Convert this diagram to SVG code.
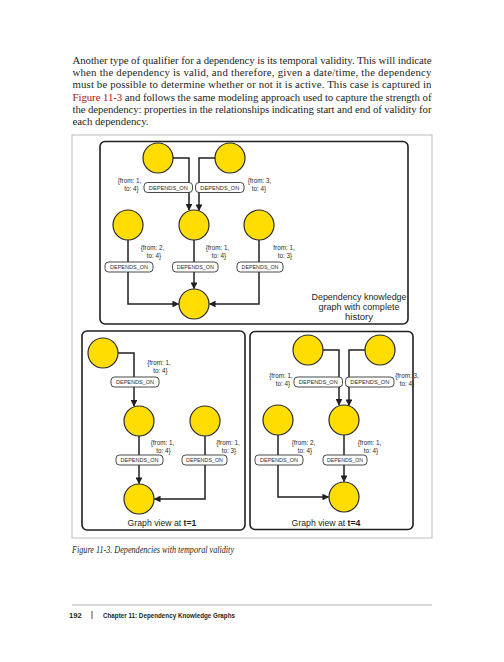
<svg xmlns="http://www.w3.org/2000/svg" width="504" height="662" viewBox="0 0 504 662">
<defs>
<style>
.para{font-family:"Liberation Serif",serif;font-size:10.8px;fill:#231f20}
.link{fill:#a3161a}
.cap{font-family:"Liberation Serif",serif;font-size:10px;font-style:italic;fill:#231f20}
.foot{font-family:"Liberation Sans",sans-serif;font-size:7.6px;font-weight:bold;fill:#231f20}
.panel{fill:#fff;stroke:#231f20;stroke-width:1.6}
.node{fill:#ffdd00;stroke:#2a2a2a;stroke-width:1.2}
.edge{fill:none;stroke:#231f20;stroke-width:1.5}
.lbox{fill:#fff;stroke:#333;stroke-width:0.9}
.ltxt{font-family:"Liberation Sans",sans-serif;font-size:6px;fill:#2a2a2a;text-anchor:middle}
.prop{font-family:"Liberation Sans",sans-serif;font-size:6.3px;fill:#2a2a2a;text-anchor:middle}
.title{font-family:"Liberation Sans",sans-serif;font-size:9.6px;fill:#231f20;text-anchor:middle}
.gv{font-family:"Liberation Sans",sans-serif;font-size:8.7px;fill:#231f20;text-anchor:middle}
</style>
<marker id="arr" viewBox="0 0 10 10" refX="9" refY="5" markerWidth="4.5" markerHeight="4.5" orient="auto" markerUnits="strokeWidth">
<path d="M0,0 L10,5 L0,10 z" fill="#231f20"/>
</marker>
</defs>
<rect width="504" height="662" fill="#fff"/>

<g id="paragraph">
<text class="para" x="72.5" y="63.5" textLength="359" lengthAdjust="spacing">Another type of qualifier for a dependency is its temporal validity. This will indicate</text>
<text class="para" x="72.5" y="76" textLength="359" lengthAdjust="spacing">when the dependency is valid, and therefore, given a date/time, the dependency</text>
<text class="para" x="72.5" y="88.3" textLength="359" lengthAdjust="spacing">must be possible to determine whether or not it is active. This case is captured in</text>
<text class="para" x="72.5" y="100.6" textLength="359" lengthAdjust="spacing"><tspan class="link">Figure 11-3</tspan> and follows the same modeling approach used to capture the strength of</text>
<text class="para" x="72.5" y="113" textLength="359" lengthAdjust="spacing">the dependency: properties in the relationships indicating start and end of validity for</text>
<text class="para" x="72.5" y="125.3">each dependency.</text>
</g>

<rect id="figure-frame" x="72" y="135" width="360" height="403" fill="none" stroke="#bdbdbd" stroke-width="1"/>

<!-- Panels -->
<rect id="panel-top" class="panel" x="100" y="141.5" width="308" height="182.5" rx="5"/>
<rect id="panel-t1" class="panel" x="82" y="331" width="163" height="199" rx="5"/>
<rect id="panel-t4" class="panel" x="250" y="331.5" width="163" height="198" rx="5"/>

<!-- Connectors -->
<g id="connectors">
<path class="edge" d="M173,158 H189 V210" marker-end="url(#arr)"/>
<path class="edge" d="M215,158 H199 V210.5" marker-end="url(#arr)"/>
<path class="edge" d="M128,240 V304 H178.5" marker-end="url(#arr)"/>
<path class="edge" d="M194,240 V288.5" marker-end="url(#arr)"/>
<path class="edge" d="M259,240 V304 H209.5" marker-end="url(#arr)"/>

<path class="edge" d="M118,353 H134 V406" marker-end="url(#arr)"/>
<path class="edge" d="M139,436 V483.5" marker-end="url(#arr)"/>
<path class="edge" d="M205,436 V499 H154.5" marker-end="url(#arr)"/>

<path class="edge" d="M323,350 H339 V405" marker-end="url(#arr)"/>
<path class="edge" d="M365,350 H349 V405.5" marker-end="url(#arr)"/>
<path class="edge" d="M278,435 V497 H328.5" marker-end="url(#arr)"/>
<path class="edge" d="M344,435 V481.5" marker-end="url(#arr)"/>
</g>

<!-- Top panel nodes -->
<g id="top-n1"><circle class="node" cx="158" cy="158" r="15"/></g>
<g id="top-n2"><circle class="node" cx="230" cy="158" r="15"/></g>
<g id="top-n3"><circle class="node" cx="128" cy="225" r="15"/></g>
<g id="top-n4"><circle class="node" cx="194" cy="225" r="15"/></g>
<g id="top-n5"><circle class="node" cx="259" cy="225" r="15"/></g>
<g id="top-n6"><circle class="node" cx="194" cy="304" r="15"/></g>

<g id="top-labels">
<rect class="lbox" x="144" y="182.5" width="48.5" height="10" rx="3.5"/>
<text class="ltxt" x="168.3" y="189.7" textLength="39" lengthAdjust="spacingAndGlyphs">DEPENDS_ON</text>
<rect class="lbox" x="195.5" y="182.5" width="48.5" height="10" rx="3.5"/>
<text class="ltxt" x="219.8" y="189.7" textLength="39" lengthAdjust="spacingAndGlyphs">DEPENDS_ON</text>
<text class="prop" x="129.5" y="182.5">{from: 1,<tspan x="131.5" dy="8">to: 4}</tspan></text>
<text class="prop" x="259.5" y="182.5">{from: 3,<tspan x="259" dy="8">to: 4}</tspan></text>

<rect class="lbox" x="105" y="262" width="48" height="10" rx="3.5"/>
<text class="ltxt" x="129" y="269.2" textLength="38" lengthAdjust="spacingAndGlyphs">DEPENDS_ON</text>
<rect class="lbox" x="172.5" y="262" width="45.5" height="10" rx="3.5"/>
<text class="ltxt" x="195.3" y="269.2" textLength="37" lengthAdjust="spacingAndGlyphs">DEPENDS_ON</text>
<rect class="lbox" x="237" y="262" width="46" height="10" rx="3.5"/>
<text class="ltxt" x="260" y="269.2" textLength="37" lengthAdjust="spacingAndGlyphs">DEPENDS_ON</text>
<text class="prop" x="152.5" y="250">{from: 2,<tspan x="154" dy="8">to: 4}</tspan></text>
<text class="prop" x="217.5" y="250">{from: 1,<tspan x="219" dy="8">to: 4}</tspan></text>
<text class="prop" x="284" y="250">from: 1,<tspan x="285" dy="8">to: 3}</tspan></text>

<text class="title" x="359" y="299.5" textLength="95" lengthAdjust="spacingAndGlyphs">Dependency knowledge</text>
<text class="title" x="359" y="309.8" textLength="81" lengthAdjust="spacingAndGlyphs">graph with complete</text>
<text class="title" x="359" y="320.1" textLength="28" lengthAdjust="spacingAndGlyphs">history</text>
</g>

<!-- Bottom-left panel (t=1) -->
<g id="t1-n1"><circle class="node" cx="103" cy="353" r="15"/></g>
<g id="t1-n2"><circle class="node" cx="139" cy="421" r="15"/></g>
<g id="t1-n3"><circle class="node" cx="205" cy="421" r="15"/></g>
<g id="t1-n4"><circle class="node" cx="139" cy="499" r="15"/></g>

<g id="t1-labels">
<rect class="lbox" x="111" y="377" width="48" height="10" rx="3.5"/>
<text class="ltxt" x="135" y="384.2" textLength="38" lengthAdjust="spacingAndGlyphs">DEPENDS_ON</text>
<text class="prop" x="159" y="365">{from: 1,<tspan x="160.5" dy="8">to: 4}</tspan></text>
<rect class="lbox" x="116" y="455" width="47" height="10" rx="3.5"/>
<text class="ltxt" x="139.5" y="462.2" textLength="38" lengthAdjust="spacingAndGlyphs">DEPENDS_ON</text>
<rect class="lbox" x="182" y="455" width="45" height="10" rx="3.5"/>
<text class="ltxt" x="204.5" y="462.2" textLength="37" lengthAdjust="spacingAndGlyphs">DEPENDS_ON</text>
<text class="prop" x="162.5" y="445">{from: 1,<tspan x="163.5" dy="8">to: 4}</tspan></text>
<text class="prop" x="228" y="445">{from: 1,<tspan x="229" dy="8">to: 3}</tspan></text>
<text class="gv" x="162" y="526">Graph view at <tspan font-weight="bold">t=1</tspan></text>
</g>

<!-- Bottom-right panel (t=4) -->
<g id="t4-n1"><circle class="node" cx="308" cy="350" r="15"/></g>
<g id="t4-n2"><circle class="node" cx="380" cy="350" r="15"/></g>
<g id="t4-n3"><circle class="node" cx="278" cy="420" r="15"/></g>
<g id="t4-n4"><circle class="node" cx="344" cy="420" r="15"/></g>
<g id="t4-n5"><circle class="node" cx="344" cy="497" r="15"/></g>

<g id="t4-labels">
<rect class="lbox" x="294" y="377" width="48.5" height="10" rx="3.5"/>
<text class="ltxt" x="318.3" y="384.2" textLength="39" lengthAdjust="spacingAndGlyphs">DEPENDS_ON</text>
<rect class="lbox" x="345.5" y="377" width="48.5" height="10" rx="3.5"/>
<text class="ltxt" x="369.8" y="384.2" textLength="39" lengthAdjust="spacingAndGlyphs">DEPENDS_ON</text>
<text class="prop" x="281" y="377.5">{from: 1,<tspan x="283" dy="8">to: 4}</tspan></text>
<text class="prop" x="407" y="377.5">{from: 3,<tspan x="407" dy="8">to: 4}</tspan></text>
<rect class="lbox" x="255" y="455" width="48" height="10" rx="3.5"/>
<text class="ltxt" x="279" y="462.2" textLength="38" lengthAdjust="spacingAndGlyphs">DEPENDS_ON</text>
<rect class="lbox" x="323" y="455" width="44" height="10" rx="3.5"/>
<text class="ltxt" x="345" y="462.2" textLength="36" lengthAdjust="spacingAndGlyphs">DEPENDS_ON</text>
<text class="prop" x="303.5" y="445">{from: 2,<tspan x="305" dy="8">to: 4}</tspan></text>
<text class="prop" x="369.5" y="445">{from: 1,<tspan x="371" dy="8">to: 4}</tspan></text>
<text class="gv" x="326" y="526">Graph view at <tspan font-weight="bold">t=4</tspan></text>
</g>

<g id="caption">
<text class="cap" x="72" y="552.5" textLength="162" lengthAdjust="spacingAndGlyphs">Figure 11-3. Dependencies with temporal validity</text>
</g>

<g id="footer">
<line x1="72" y1="605" x2="432" y2="605" stroke="#9a9a9a" stroke-width="0.8"/>
<text class="foot" x="69" y="618">192</text>
<line x1="92" y1="611" x2="92" y2="619" stroke="#231f20" stroke-width="0.8"/>
<text class="foot" x="103" y="618" textLength="132" lengthAdjust="spacingAndGlyphs">Chapter 11: Dependency Knowledge Graphs</text>
</g>
</svg>
